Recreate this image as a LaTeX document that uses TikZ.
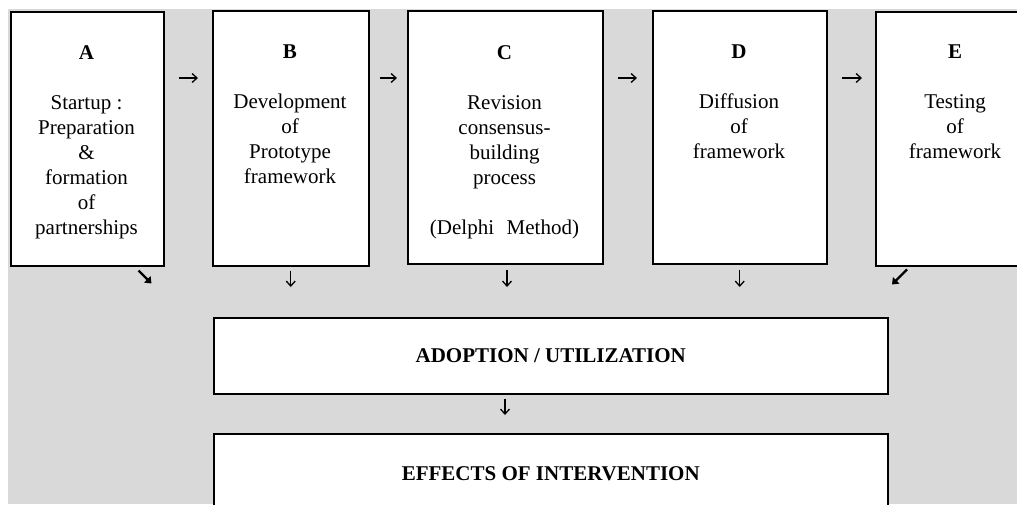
\documentclass[tikz,border=0pt]{standalone}
\usepackage{fontspec}
\setmainfont{Liberation Serif}
\usetikzlibrary{arrows.meta,calc}
\begin{document}
\begin{tikzpicture}[x=1pt,y=-1pt,
  stagebox/.style={draw=black,line width=1.5pt,fill=white,rectangle,inner sep=0pt,anchor=north west},
  stagetext/.style={anchor=north,align=center,inner sep=0pt,font=\fontsize{21}{25}\selectfont},
  resultbox/.style={stagebox,font=\fontsize{21}{25}\selectfont\bfseries},
  flow/.style={line width=1.3pt,-{Straight Barb[length=5pt,width=9pt]}},
  slant/.style={line width=2.4pt,-{Triangle[length=6pt,width=9pt]}}]
\clip (0,0) rectangle (1017,504);
% page ground
\fill[black!15] (8,9) rectangle (1017,504);

% five stages
\node[stagebox,minimum width=153pt,minimum height=254pt] (A) at (10,11) {};
\node[stagebox,minimum width=156pt,minimum height=255pt] (B) at (212,10) {};
\node[stagebox,minimum width=195pt,minimum height=253pt] (C) at (407,10) {};
\node[stagebox,minimum width=174pt,minimum height=253pt] (D) at (652,10) {};
\node[stagebox,minimum width=160pt,minimum height=254pt] (E) at (875,11) {};

\node[stagetext] (At) at (86.5,45) {\textbf{A}\\[25pt]Startup :\\Preparation\\\&\\formation\\of\\partnerships};
\node[stagetext] (Bt) at (290,45) {\textbf{B}\\[25pt]Development\\of\\Prototype\\framework};
\node[stagetext] (Ct) at (504.5,45) {\textbf{C}\\[25pt]Revision\\consensus-\\building\\process\\[25pt](Delphi\hspace{0.6em}Method)};
\node[stagetext] (Dt) at (739,45) {\textbf{D}\\[25pt]Diffusion\\of\\framework};
\node[stagetext] (Et) at (955,45) {\textbf{E}\\[25pt]Testing\\of\\framework};

% outcome boxes
\node[resultbox,minimum width=674pt,minimum height=76pt] (U) at (213,317) {ADOPTION / UTILIZATION};
\node[resultbox,minimum width=674pt,minimum height=79pt] (F) at (213,433) {EFFECTS OF INTERVENTION};

% stage-to-stage arrows
\coordinate (row) at (0,78);
\draw[flow,shorten <=14pt,shorten >=14pt] (A.east |- row) -- (B.west |- row);
\draw[flow,shorten <=10pt,shorten >=10pt] (B.east |- row) -- (C.west |- row);
\draw[flow,shorten <=14pt,shorten >=15pt] (C.east |- row) -- (D.west |- row);
\draw[flow,shorten <=14pt,shorten >=13pt] (D.east |- row) -- (E.west |- row);

% stages feeding adoption
\draw[flow,shorten <=4pt,shorten >=30pt] (B.south) -- (B.south |- U.north);
\coordinate (cdown) at (507,0);
\draw[flow,shorten <=5pt,shorten >=30pt] (C.south -| cdown) -- (U.north -| cdown);
\draw[flow,shorten <=5pt,shorten >=30pt] (D.south) -- (D.south |- U.north);
\draw[slant] ([shift={(-26,4)}]A.south east) -- ([shift={(-13,17)}]A.south east);
\draw[slant] ([shift={(32,3)}]E.south west) -- ([shift={(17,18)}]E.south west);

% adoption leads to effects
\coordinate (mid) at (505,0);
\draw[flow,shorten <=4pt,shorten >=18pt] (U.south -| mid) -- (F.north -| mid);
\end{tikzpicture}
\end{document}
